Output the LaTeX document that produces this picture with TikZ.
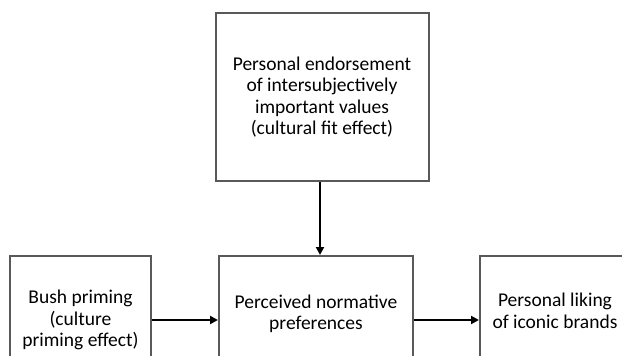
\documentclass[tikz,border=0pt]{standalone}
\usepackage{fontspec}
\setmainfont{Carlito}
\usetikzlibrary{arrows.meta}
\begin{document}
\begin{tikzpicture}[x=1pt,y=-1pt,
  box/.style={draw=black!65, line width=2pt, fill=white, align=center, inner sep=0pt,
    font=\fontsize{19.5}{21.5}\selectfont},
  arr/.style={-{Triangle[length=8pt,width=8pt]}, line width=2.6pt, black}]
\useasboundingbox (0,0) rectangle (622,356);
\clip (0,0) rectangle (622,356);
\fill[white] (0,0) rectangle (622,356);
\node[box, minimum width=213pt, minimum height=168pt] (endorse) at (322,97)
  {Personal endorsement\\of intersubjectively\\important values\\(cultural fit effect)};
\node[box, minimum width=141pt, minimum height=128pt] (bush) at (80.5,320)
  {Bush priming\\(culture\\priming effect)};
\node[box, minimum width=194pt, minimum height=116pt] (perc) at (316,314)
  {Perceived normative\\preferences};
\node[box, minimum width=150pt, minimum height=110pt] (liking) at (555,311)
  {Personal liking\\of iconic brands};
\draw[arr] (endorse.south -| 320,0) -- (perc.north -| 320,0);
\draw[arr] (bush.east) -- (bush.east -| perc.west);
\draw[arr] (perc.east |- bush.east) -- (liking.west |- bush.east);
\end{tikzpicture}
\end{document}
